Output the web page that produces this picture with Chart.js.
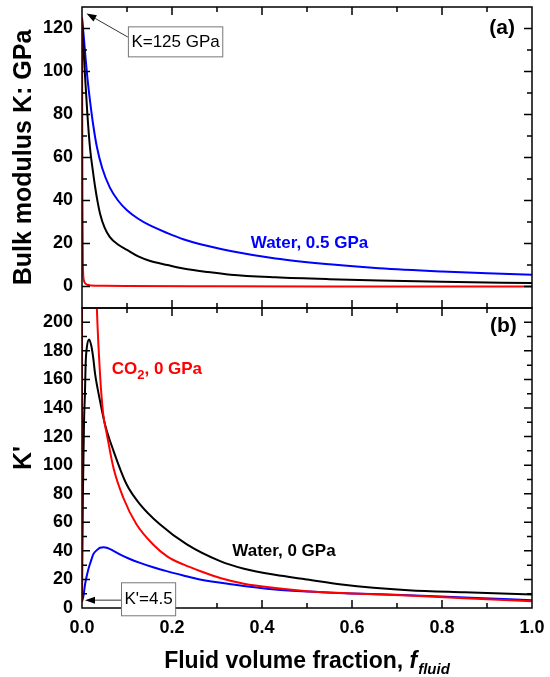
<!DOCTYPE html>
<html>
<head>
<meta charset="utf-8">
<script src="https://cdn.jsdelivr.net/npm/chart.js@4"></script>
<style>
  html, body { margin: 0; padding: 0; background: #fff; }
  #wrap { position: relative; width: 550px; height: 677px; }
  #chartA { position: absolute; left: 0; top: 0; }
  #chartB { position: absolute; left: 0; top: 300px; }
</style>
</head>
<body>
<div id="wrap">
  <canvas id="chartA" width="550" height="312"></canvas>
  <canvas id="chartB" width="550" height="377"></canvas>
</div>
<script>
// ---- panel (a): bulk modulus K (GPa) vs fluid volume fraction ----
const kWaterHpF   = [0, 0.004, 0.008, 0.012, 0.018, 0.025, 0.033, 0.045, 0.062, 0.08, 0.1, 0.125, 0.15, 0.19, 0.225, 0.28, 0.33, 0.43, 0.55, 0.66, 0.8, 0.9, 1.0];
const kWaterHpVal = [125, 116, 106, 97, 86, 75, 65, 55, 46, 40, 35.5, 31.5, 28.5, 24.8, 22, 18.8, 16.5, 13, 10.3, 8.5, 7, 6.2, 5.5];
const kWaterF     = [0, 0.003, 0.0067, 0.012, 0.018, 0.024, 0.029, 0.035, 0.04, 0.05, 0.062, 0.08, 0.1, 0.125, 0.15, 0.19, 0.225, 0.28, 0.33, 0.43, 0.55, 0.66, 0.8, 1.0];
const kWaterVal   = [125, 112, 98, 80, 64, 54, 46.5, 39, 34, 27.5, 23, 19.5, 17, 14, 12, 10, 8.4, 6.7, 5.5, 4.3, 3.4, 2.8, 2.2, 1.6];
const kCo2F       = [0, 0.001, 0.002, 0.004, 0.007, 0.012, 0.02, 0.05, 0.1, 0.3, 0.6, 1.0];
const kCo2Val     = [125, 40, 10, 3, 1.5, 0.8, 0.5, 0.3, 0.2, 0.1, 0.05, 0.02];

// ---- panel (b): pressure derivative K' ----
const dkCo2F       = [0, 0.0005, 0.01, 0.02, 0.027, 0.033, 0.04, 0.047, 0.055, 0.07, 0.092, 0.121, 0.158, 0.19, 0.225, 0.27, 0.307, 0.36, 0.429, 0.5, 0.6, 0.725, 0.85, 1.0];
const dkCo2Val     = [4.5, 2000, 990, 420, 280, 210, 164, 136, 122, 98, 77, 58.6, 44.5, 36, 30.5, 25, 21, 17, 14, 11.8, 10.2, 8.8, 6.8, 4.8];
const dkWaterF     = [0, 0.002, 0.0044, 0.0067, 0.008, 0.011, 0.016, 0.021, 0.025, 0.029, 0.035, 0.04, 0.051, 0.07, 0.099, 0.129, 0.173, 0.233, 0.307, 0.36, 0.429, 0.5, 0.577, 0.725, 0.85, 1.0];
const dkWaterVal   = [4.5, 80, 129, 152, 170, 183, 188, 183, 175, 164, 153, 145, 128.7, 110, 86.6, 72.6, 58.6, 44.5, 32.8, 27.5, 23.2, 20, 16.5, 12.5, 11, 9.5];
const dkWaterHpF   = [0, 0.003, 0.007, 0.014, 0.02, 0.025, 0.033, 0.04, 0.048, 0.055, 0.07, 0.084, 0.105, 0.129, 0.158, 0.188, 0.225, 0.262, 0.336, 0.429, 0.5, 0.6, 0.725, 0.85, 1.0];
const dkWaterHpVal = [4.5, 8, 17, 27, 33, 37.5, 40.5, 42.2, 42.5, 42.2, 40, 37.5, 34.5, 31.6, 28.5, 25.8, 22.8, 20, 16.5, 13, 11.5, 10.2, 8.9, 7.3, 5.5];

const xTickVals  = [0, 0.2, 0.4, 0.6, 0.8, 1.0];
const kTickVals  = [0, 20, 40, 60, 80, 100, 120];
const dkTickVals = [0, 20, 40, 60, 80, 100, 120, 140, 160, 180, 200];

const fontFam = '"Liberation Sans", Arial, sans-serif';
const toPts = (xs, ys) => xs.map((x, i) => ({ x: x, y: ys[i] }));

function line(data, color) {
  return {
    data: data, borderColor: color, borderWidth: 2, pointRadius: 0,
    cubicInterpolationMode: 'monotone', fill: false
  };
}

function midpoints(vals) {
  const out = [];
  for (let i = 0; i < vals.length - 1; i++) out.push((vals[i] + vals[i + 1]) / 2);
  out.push(vals[vals.length - 1] + (vals[1] - vals[0]) / 2);
  return out;
}

// frame with inward ticks on all four sides
function drawFrame(chart, yTicks) {
  const { ctx, chartArea: a } = chart;
  const xs = chart.scales.x, ys = chart.scales.y;
  ctx.save();
  ctx.strokeStyle = '#000';
  ctx.lineWidth = 1.5;
  ctx.strokeRect(a.left, a.top, a.right - a.left, a.bottom - a.top);
  ctx.beginPath();
  const xt = (v, len) => {
    const p = xs.getPixelForValue(v);
    if (p <= a.left + 1 || p >= a.right - 1) return;
    ctx.moveTo(p, a.bottom); ctx.lineTo(p, a.bottom - len);
    ctx.moveTo(p, a.top); ctx.lineTo(p, a.top + len);
  };
  const yt = (v, len) => {
    const p = ys.getPixelForValue(v);
    if (p <= a.top + 1 || p >= a.bottom - 1) return;
    ctx.moveTo(a.left, p); ctx.lineTo(a.left + len, p);
    ctx.moveTo(a.right, p); ctx.lineTo(a.right - len, p);
  };
  xTickVals.forEach(v => xt(v, 8));
  midpoints(xTickVals).forEach(v => xt(v, 5));
  yTicks.forEach(v => yt(v, 8));
  midpoints(yTicks).forEach(v => yt(v, 5));
  yt(yTicks[0] - (yTicks[1] - yTicks[0]) / 2, 5);
  ctx.stroke();
  ctx.restore();
}

function arrow(ctx, x1, y1, x2, y2) {
  const ang = Math.atan2(y2 - y1, x2 - x1);
  const c = Math.cos(ang), s = Math.sin(ang);
  const L = 10, W = 3.5;
  ctx.save();
  ctx.strokeStyle = '#333';
  ctx.fillStyle = '#000';
  ctx.lineWidth = 1;
  ctx.beginPath();
  ctx.moveTo(x1, y1); ctx.lineTo(x2 - L * c, y2 - L * s);
  ctx.stroke();
  ctx.beginPath();
  ctx.moveTo(x2, y2);
  ctx.lineTo(x2 - L * c + W * s, y2 - L * s - W * c);
  ctx.lineTo(x2 - L * c - W * s, y2 - L * s + W * c);
  ctx.closePath();
  ctx.fill();
  ctx.restore();
}

function textBox(ctx, text, left, top, h) {
  ctx.save();
  ctx.font = '17px ' + fontFam;
  const w = ctx.measureText(text).width + 6;
  ctx.fillStyle = '#fff';
  ctx.fillRect(left, top, w, h);
  ctx.strokeStyle = '#777';
  ctx.lineWidth = 1;
  ctx.strokeRect(left + 0.5, top + 0.5, w, h);
  ctx.fillStyle = '#000';
  ctx.textAlign = 'center';
  ctx.textBaseline = 'middle';
  ctx.fillText(text, left + w / 2 + 0.5, top + h / 2 + 1);
  ctx.restore();
}

const tickFont = { family: fontFam, size: 18, weight: 'bold' };
const titleFont = { family: fontFam, size: 25, weight: 'bold' };

function yAxis(min, max, ticks, title) {
  return {
    min: min, max: max,
    afterBuildTicks: s => { s.ticks = ticks.map(v => ({ value: v })); },
    afterFit: s => { s.width = 82; s.paddingTop = 0; s.paddingBottom = 0; },
    grid: { display: false, drawTicks: false },
    border: { display: false },
    ticks: { color: '#000', padding: 9, font: tickFont },
    title: { display: true, text: title, color: '#000', font: titleFont, padding: { top: 9, bottom: 0 } }
  };
}

const panelA = {
  id: 'panelA',
  afterDraw(chart) {
    const { ctx } = chart;
    const xs = chart.scales.x, ys = chart.scales.y;
    drawFrame(chart, kTickVals);
    ctx.save();
    ctx.font = 'bold 21px ' + fontFam;
    ctx.fillStyle = '#000';
    ctx.textAlign = 'right';
    ctx.textBaseline = 'middle';
    ctx.fillText('(a)', xs.getPixelForValue(0.962), ys.getPixelForValue(120));
    ctx.font = 'bold 17px ' + fontFam;
    ctx.fillStyle = '#0000ff';
    ctx.textAlign = 'left';
    ctx.textBaseline = 'alphabetic';
    ctx.fillText('Water, 0.5 GPa', xs.getPixelForValue(0.375), ys.getPixelForValue(18));
    ctx.restore();
    const bx = xs.getPixelForValue(0.102), by = ys.getPixelForValue(121);
    arrow(ctx, bx, ys.getPixelForValue(116), xs.getPixelForValue(0.01), ys.getPixelForValue(127));
    textBox(ctx, 'K=125 GPa', bx, by, 30);
  }
};

const panelB = {
  id: 'panelB',
  afterDraw(chart) {
    const { ctx, chartArea: a } = chart;
    const xs = chart.scales.x, ys = chart.scales.y;
    drawFrame(chart, dkTickVals);
    ctx.save();
    ctx.font = 'bold 21px ' + fontFam;
    ctx.fillStyle = '#000';
    ctx.textAlign = 'right';
    ctx.textBaseline = 'middle';
    ctx.fillText('(b)', xs.getPixelForValue(0.966), ys.getPixelForValue(197));

    ctx.textAlign = 'left';
    ctx.textBaseline = 'alphabetic';
    // CO2 label with subscript
    let x = xs.getPixelForValue(0.066);
    const yb = ys.getPixelForValue(163.8);
    ctx.fillStyle = '#ff0000';
    ctx.font = 'bold 17px ' + fontFam;
    ctx.fillText('CO', x, yb); x += ctx.measureText('CO').width;
    ctx.font = 'bold 13px ' + fontFam;
    ctx.fillText('2', x, yb + 5); x += ctx.measureText('2').width;
    ctx.font = 'bold 17px ' + fontFam;
    ctx.fillText(', 0 GPa', x, yb);

    ctx.fillStyle = '#000';
    ctx.fillText('Water, 0 GPa', xs.getPixelForValue(0.334), ys.getPixelForValue(36.75));

    // x axis title with italic subscripted f
    const t1 = 'Fluid volume fraction, ';
    ctx.font = 'bold 23px ' + fontFam;
    const w1 = ctx.measureText(t1).width;
    ctx.font = 'italic bold 23px ' + fontFam;
    const w2 = ctx.measureText('f').width;
    ctx.font = 'italic bold 15px ' + fontFam;
    const w3 = ctx.measureText('fluid').width;
    let tx = (a.left + a.right) / 2 - (w1 + w2 + 1 + w3) / 2;
    const ty = chart.height - 9;
    ctx.font = 'bold 23px ' + fontFam;
    ctx.fillText(t1, tx, ty); tx += w1;
    ctx.font = 'italic bold 23px ' + fontFam;
    ctx.fillText('f', tx, ty); tx += w2 + 1;
    ctx.font = 'italic bold 15px ' + fontFam;
    ctx.fillText('fluid', tx, ty + 6);
    ctx.restore();

    const bx = xs.getPixelForValue(0.0867), by = ys.getPixelForValue(18);
    const ay = ys.getPixelForValue(5.5);
    arrow(ctx, bx, ay, xs.getPixelForValue(0.0067), ay);
    textBox(ctx, "K'=4.5", bx, by, 33);
  }
};

new Chart(document.getElementById('chartA'), {
  type: 'line',
  data: {
    datasets: [
      line(toPts(kCo2F, kCo2Val), '#ff0000'),
      line(toPts(kWaterF, kWaterVal), '#000000'),
      line(toPts(kWaterHpF, kWaterHpVal), '#0000ff')
    ]
  },
  options: {
    responsive: false,
    animation: false,
    layout: { padding: { top: 7, right: 18, bottom: 4, left: 0 } },
    plugins: { legend: { display: false }, tooltip: { enabled: false } },
    scales: {
      x: { type: 'linear', min: 0, max: 1, display: false },
      y: yAxis(-10, 130, kTickVals, 'Bulk modulus K: GPa')
    }
  },
  plugins: [panelA]
});

new Chart(document.getElementById('chartB'), {
  type: 'line',
  data: {
    datasets: [
      line(toPts(dkCo2F, dkCo2Val), '#ff0000'),
      line(toPts(dkWaterF, dkWaterVal), '#000000'),
      line(toPts(dkWaterHpF, dkWaterHpVal), '#0000ff')
    ]
  },
  options: {
    responsive: false,
    animation: false,
    layout: { padding: { top: 8, right: 18, bottom: 0, left: 0 } },
    plugins: { legend: { display: false }, tooltip: { enabled: false } },
    scales: {
      x: {
        type: 'linear', min: 0, max: 1,
        afterBuildTicks: s => { s.ticks = xTickVals.map(v => ({ value: v })); },
        afterFit: s => { s.height = 69; s.paddingLeft = 0; s.paddingRight = 0; },
        grid: { display: false, drawTicks: false },
        border: { display: false },
        ticks: { color: '#000', padding: 9, maxRotation: 0, font: tickFont, callback: v => v.toFixed(1) }
      },
      y: yAxis(0, 210, dkTickVals, "K'")
    }
  },
  plugins: [panelB]
});
</script>
</body>
</html>
